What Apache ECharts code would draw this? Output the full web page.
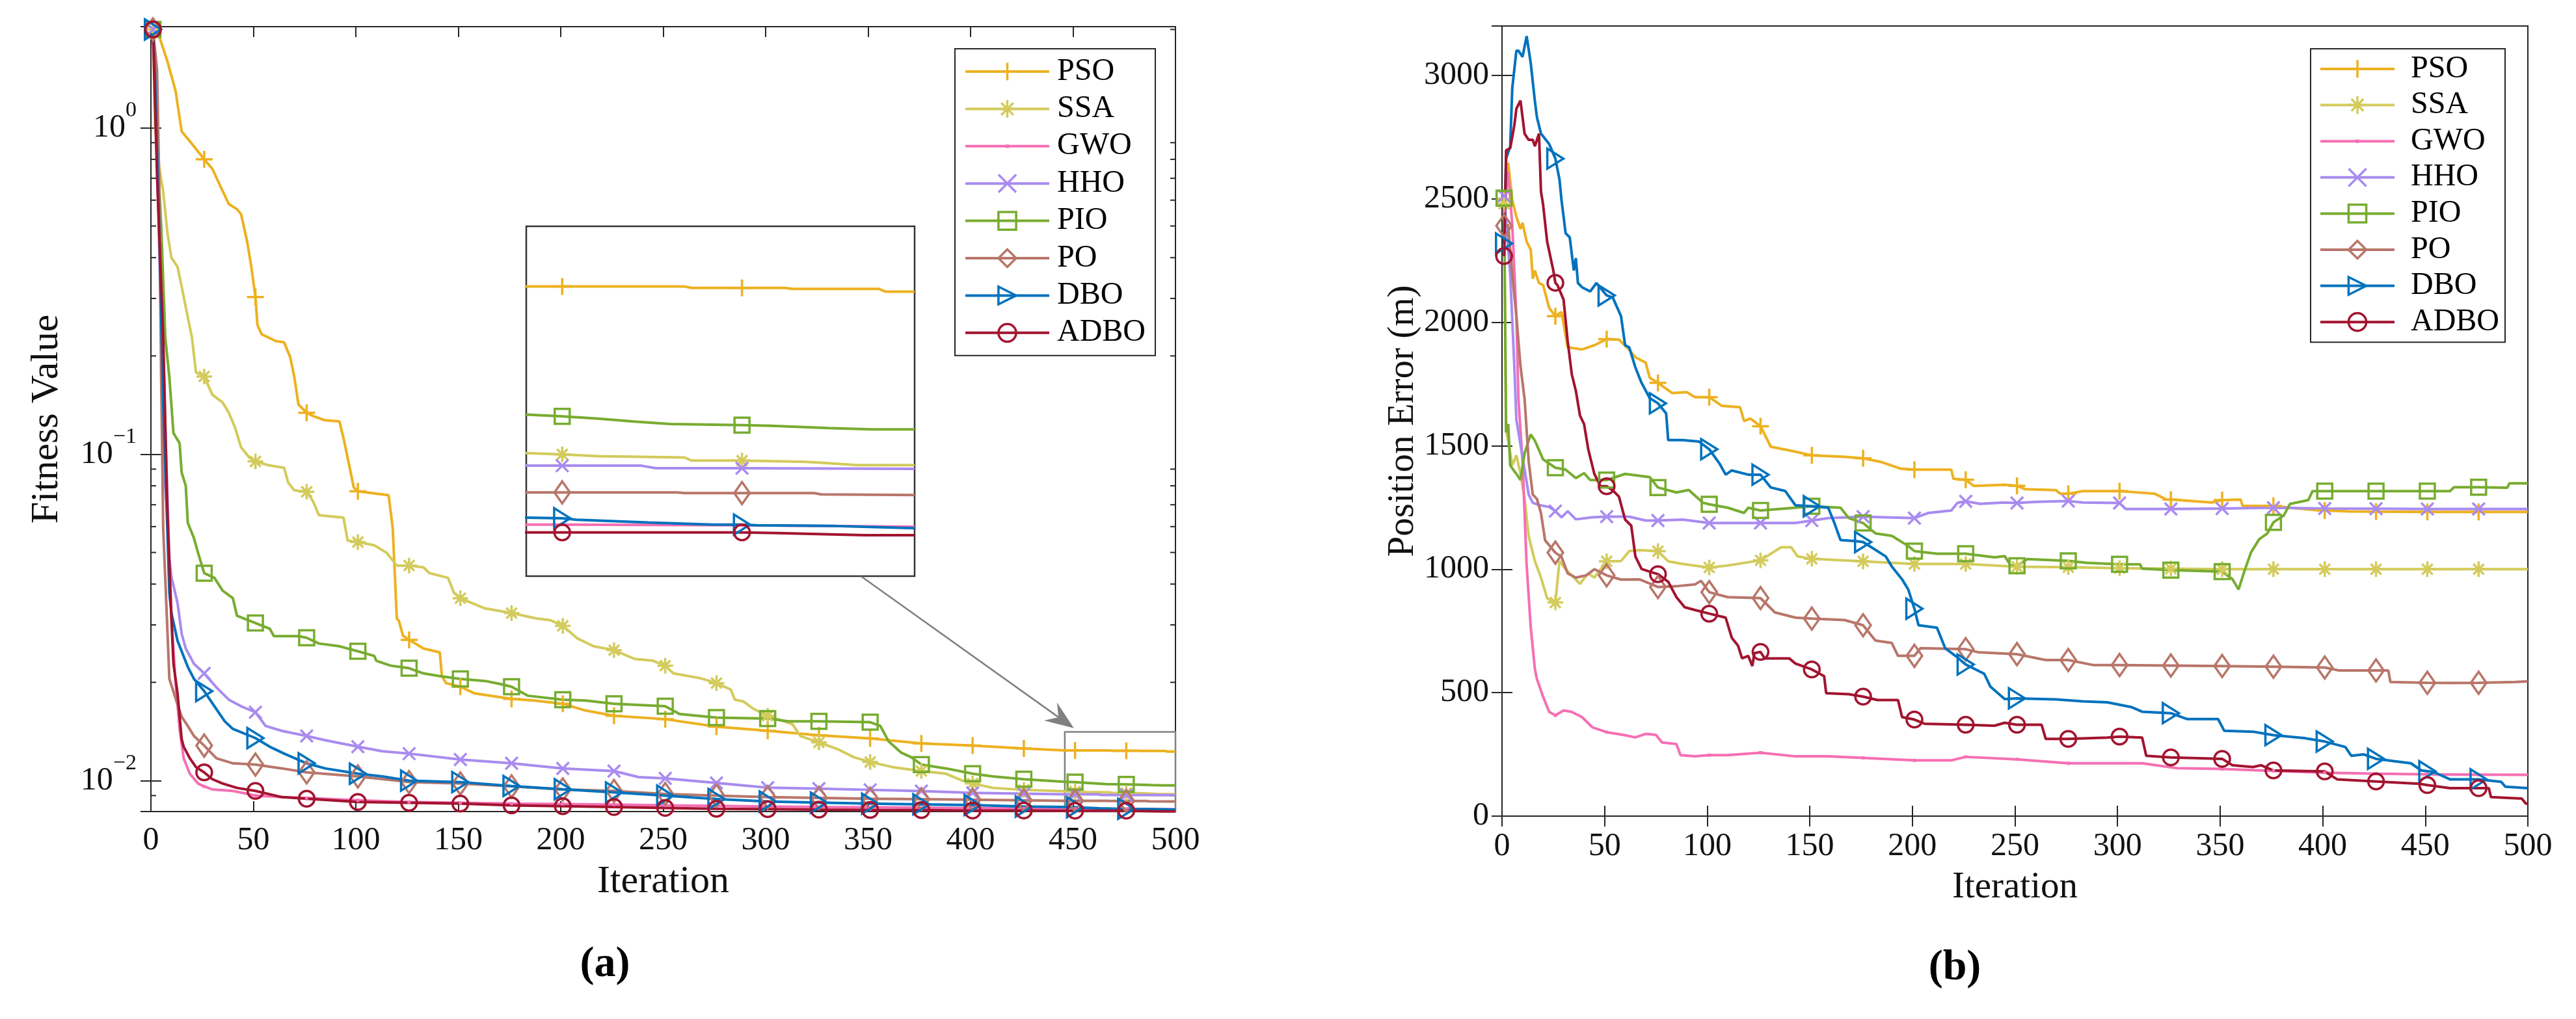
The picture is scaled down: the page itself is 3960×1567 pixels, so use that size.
<!DOCTYPE html>
<html>
<head>
<meta charset="utf-8">
<title>Convergence curves: fitness value and position error</title>
<script src="https://cdn.jsdelivr.net/npm/echarts@6.0.0/dist/echarts.min.js"></script>
<style>
  html, body { margin: 0; padding: 0; background: #fff; }
  #chart { width: 3960px; height: 1567px; }
</style>
</head>
<body>
<div id="chart"></div>
<script>
// ---- data: [iteration, value] ----
const algorithms = ['PSO', 'SSA', 'GWO', 'HHO', 'PIO', 'PO', 'DBO', 'ADBO'];
const fitnessMinorTicks = [0.009, 0.02, 0.03, 0.04, 0.05, 0.06, 0.07, 0.08, 0.09,
  0.2, 0.3, 0.4, 0.5, 0.6, 0.7, 0.8, 0.9, 2];
// zoomed region of panel (a) and the arrow pointing at it (data coordinates)
const zoomBox = [[446, 0.0141], [500, 0.00804]];
const zoomArrow = [346.7, 0.0422, 450.4, 0.01448];

// (a) fitness value
const fitPSO = [[1,2.0],[4,1.91],[8,1.6],[12,1.3],[15,0.975],[19,0.909],[24,0.83],[26,0.80],[30,0.748],[34,0.66],[38,0.584],[42,0.563],[44,0.544],[47,0.447],[49,0.375],[51,0.303],[52,0.249],[54,0.233],[61,0.222],[65,0.22],[68,0.198],[70,0.172],[72,0.142],[76,0.134],[79,0.131],[85,0.127],[92,0.126],[94,0.112],[97,0.091],[99,0.079],[101,0.077],[116,0.0749],[118,0.0594],[120,0.0314],[121,0.0309],[123,0.0278],[126,0.027],[133,0.0254],[141,0.0247],[142,0.0209],[144,0.0199],[151,0.0194],[158,0.0185],[176,0.0178],[187,0.0176],[201,0.0172],[212,0.0164],[226,0.0158],[251,0.01543],[276,0.01463],[301,0.01422],[326,0.01376],[351,0.01347],[376,0.0130],[401,0.0128],[426,0.01254],[446,0.01238],[451,0.01238],[468,0.01238],[469,0.01235],[476,0.01235],[482,0.01235],[483,0.01233],[495,0.01233],[496,0.01227],[500,0.01227]];
const fitSSA = [[1,2.0],[2,1.01],[4,0.76],[6,0.638],[8,0.48],[10,0.40],[13,0.375],[15,0.326],[18,0.263],[20,0.228],[22,0.178],[26,0.173],[30,0.152],[35,0.144],[38,0.134],[41,0.121],[44,0.105],[48,0.0977],[51,0.095],[57,0.0926],[65,0.0909],[67,0.0818],[70,0.0775],[76,0.0767],[79,0.072],[82,0.065],[94,0.0639],[96,0.0544],[101,0.0538],[109,0.0526],[115,0.0499],[120,0.0456],[126,0.0456],[133,0.045],[136,0.0432],[145,0.0418],[148,0.0375],[151,0.0362],[163,0.0337],[176,0.0326],[188,0.0314],[195,0.031],[201,0.0298],[208,0.0273],[216,0.0258],[226,0.0251],[236,0.0236],[245,0.0233],[251,0.0225],[255,0.0213],[268,0.0206],[276,0.0199],[283,0.019],[285,0.0177],[289,0.0175],[294,0.0166],[301,0.0158],[313,0.0149],[317,0.0137],[326,0.0131],[335,0.0125],[343,0.0118],[351,0.0114],[362,0.0110],[376,0.0107],[388,0.0105],[396,0.0100],[401,0.0098],[411,0.0095],[426,0.00937],[446,0.00928],[451,0.00926],[456,0.00923],[468,0.00921],[469,0.00916],[476,0.00916],[485,0.00914],[488,0.00912],[492,0.00909],[500,0.00909]];
const fitGWO = [[1,2.0],[3,0.8],[5,0.25],[7,0.08],[8,0.065],[10,0.032],[12,0.02],[14,0.0144],[16,0.0117],[19,0.0105],[23,0.0098],[26,0.0096],[30,0.0094],[40,0.0093],[51,0.0090],[64,0.0089],[76,0.00885],[101,0.0087],[126,0.0086],[151,0.00855],[176,0.0085],[201,0.00848],[226,0.00845],[251,0.0084],[276,0.00837],[301,0.00833],[326,0.0083],[351,0.00828],[376,0.00826],[401,0.00824],[426,0.00822],[446,0.0082],[451,0.0082],[476,0.00819],[500,0.00817]];
const fitHHO = [[1,2.0],[3,1.0],[5,0.4],[7,0.12],[9,0.048],[10,0.042],[13,0.035],[15,0.0282],[17,0.0254],[21,0.0228],[26,0.0213],[32,0.0193],[38,0.0177],[44,0.0169],[51,0.0162],[56,0.0147],[64,0.0142],[76,0.0137],[85,0.0133],[101,0.0127],[113,0.0123],[126,0.0121],[151,0.0116],[176,0.0113],[201,0.0109],[226,0.0107],[238,0.01025],[251,0.01016],[276,0.00984],[301,0.00952],[326,0.00945],[351,0.00937],[376,0.00929],[401,0.00917],[426,0.00912],[446,0.00908],[451,0.00908],[462,0.00908],[464,0.00904],[476,0.00904],[500,0.00903]];
const fitPIO = [[1,2.0],[3,0.9],[5,0.5],[7,0.228],[9,0.172],[11,0.116],[14,0.108],[15,0.0879],[17,0.080],[18,0.0616],[21,0.0553],[23,0.0499],[26,0.0432],[31,0.0418],[35,0.0382],[40,0.0362],[42,0.032],[51,0.0304],[58,0.0292],[60,0.0277],[72,0.0277],[76,0.0274],[82,0.0263],[92,0.0258],[101,0.0249],[109,0.0241],[110,0.0233],[117,0.0225],[126,0.0221],[133,0.0213],[141,0.0209],[151,0.0205],[163,0.0202],[170,0.0198],[176,0.0194],[184,0.0182],[201,0.0177],[212,0.0176],[226,0.0172],[251,0.0169],[258,0.016],[276,0.0156],[301,0.0155],[311,0.0152],[326,0.0152],[351,0.0151],[356,0.0147],[360,0.0132],[366,0.0122],[371,0.0118],[376,0.0112],[388,0.0109],[401,0.0105],[411,0.0103],[426,0.0101],[446,0.00992],[451,0.00989],[456,0.00985],[461,0.0098],[466,0.00976],[476,0.00974],[480,0.00973],[488,0.00969],[494,0.00967],[500,0.00967]];
const fitPO = [[1,2.0],[3,1.5],[4,0.71],[5,0.172],[6,0.059],[8,0.0293],[9,0.0205],[13,0.0171],[15,0.0157],[18,0.0147],[21,0.0137],[26,0.0128],[32,0.0117],[40,0.0113],[51,0.0112],[64,0.0109],[76,0.0106],[101,0.0103],[126,0.0099],[151,0.0098],[176,0.0096],[201,0.0094],[226,0.0093],[251,0.0091],[276,0.0090],[301,0.0089],[326,0.00885],[351,0.0088],[376,0.00877],[401,0.00874],[426,0.0087],[446,0.00867],[451,0.00867],[467,0.00867],[468,0.00866],[476,0.00866],[486,0.00866],[487,0.00864],[500,0.00863]];
const fitDBO = [[1,2.0],[2,1.44],[4,0.498],[6,0.144],[8,0.0594],[9,0.0376],[10,0.0326],[13,0.0268],[15,0.0249],[18,0.0223],[21,0.0205],[26,0.0188],[31,0.0169],[36,0.0152],[40,0.0144],[51,0.0135],[58,0.0127],[65,0.0121],[76,0.0113],[85,0.0109],[101,0.0105],[113,0.0103],[126,0.0100],[151,0.0099],[176,0.00963],[201,0.00941],[226,0.0092],[251,0.0090],[276,0.00878],[301,0.00863],[326,0.00856],[351,0.0085],[376,0.00846],[401,0.00842],[426,0.00833],[446,0.0083],[451,0.00829],[453,0.00827],[463,0.00823],[472,0.0082],[476,0.0082],[478,0.00819],[489,0.00818],[500,0.00815]];
const fitADBO = [[1,2.0],[3,0.71],[6,0.228],[8,0.0685],[10,0.0314],[11,0.0228],[13,0.0185],[15,0.0134],[16,0.0127],[19,0.0117],[22,0.0110],[26,0.0106],[30,0.0101],[35,0.0098],[42,0.0095],[51,0.0093],[64,0.0089],[76,0.0088],[101,0.0086],[126,0.00855],[151,0.0085],[176,0.0084],[201,0.00835],[226,0.0083],[251,0.00825],[276,0.0082],[301,0.00818],[326,0.00815],[351,0.00813],[376,0.00812],[401,0.0081],[426,0.0081],[446,0.00809],[451,0.00809],[476,0.00809],[481,0.00808],[493,0.00805],[500,0.00805]];

// (b) position error (m)
const posPSO = [[1,2500],[3,2646],[5,2495],[7,2428],[9,2378],[10,2403],[12,2327],[14,2294],[15,2176],[16,2210],[18,2159],[20,2151],[23,2058],[26,2025],[29,2042],[32,1899],[39,1890],[45,1907],[51,1932],[57,1930],[62,1889],[65,1858],[70,1837],[72,1775],[76,1755],[83,1713],[90,1717],[94,1697],[101,1697],[107,1662],[116,1656],[118,1600],[121,1610],[126,1579],[131,1496],[143,1476],[151,1461],[167,1455],[176,1449],[185,1434],[194,1408],[201,1403],[219,1403],[220,1366],[226,1362],[230,1337],[245,1342],[251,1338],[255,1324],[270,1320],[272,1306],[276,1306],[283,1316],[301,1316],[318,1306],[324,1282],[326,1282],[330,1280],[346,1270],[351,1280],[360,1282],[361,1256],[376,1256],[388,1246],[396,1240],[401,1238],[413,1234],[426,1233],[451,1232],[476,1232],[500,1232]];
const posSSA = [[1,2480],[2,1560],[3,1521],[5,1420],[7,1462],[9,1386],[11,1285],[13,1134],[16,1033],[19,966],[22,882],[26,865],[28,1033],[31,1000],[35,966],[38,941],[42,983],[45,966],[51,1032],[58,1033],[62,1073],[67,1077],[76,1073],[81,1032],[88,1021],[101,1007],[110,1015],[126,1036],[136,1089],[141,1089],[144,1052],[151,1042],[176,1032],[201,1021],[226,1021],[251,1010],[276,1008],[301,1004],[326,1002],[351,1000],[376,1000],[401,1000],[426,1000],[451,1000],[476,1000],[500,1000]];
const posGWO = [[1,2450],[3,2610],[5,2394],[7,2025],[8,1689],[10,1437],[12,1017],[14,765],[16,597],[17,556],[20,484],[23,422],[26,408],[30,428],[34,422],[39,401],[44,360],[51,340],[59,329],[65,319],[70,333],[75,329],[78,298],[85,292],[87,247],[94,242],[101,247],[110,247],[126,257],[143,242],[159,242],[176,236],[201,226],[219,226],[226,240],[251,230],[276,214],[312,214],[329,194],[351,191],[376,183],[401,176],[426,172],[451,169],[476,168],[500,167]];
const posHHO = [[1,2512],[4,2193],[6,1823],[7,1605],[10,1454],[13,1302],[15,1269],[18,1260],[23,1252],[26,1235],[29,1210],[32,1235],[36,1202],[44,1210],[51,1213],[62,1213],[70,1197],[76,1197],[88,1201],[101,1187],[126,1187],[143,1187],[151,1197],[159,1207],[176,1213],[201,1207],[208,1228],[219,1238],[222,1269],[226,1275],[233,1265],[245,1270],[251,1268],[260,1273],[276,1276],[283,1270],[301,1268],[304,1244],[326,1244],[351,1246],[376,1249],[401,1246],[426,1245],[451,1244],[476,1244],[500,1244]];
const posPIO = [[1,2503],[2,1554],[3,1588],[4,1420],[7,1386],[9,1361],[11,1470],[14,1546],[16,1521],[20,1445],[26,1411],[31,1403],[36,1369],[40,1389],[43,1361],[51,1361],[60,1386],[72,1373],[76,1331],[85,1311],[91,1321],[98,1269],[101,1263],[110,1249],[118,1228],[120,1249],[126,1238],[143,1249],[151,1255],[165,1249],[169,1207],[176,1187],[182,1145],[190,1135],[198,1094],[201,1073],[212,1063],[226,1063],[240,1048],[245,1053],[248,1014],[251,1014],[256,1041],[276,1034],[285,1026],[301,1020],[311,1020],[312,1002],[326,996],[351,990],[356,960],[359,918],[362,996],[365,1067],[369,1121],[373,1145],[376,1190],[381,1217],[384,1264],[393,1280],[395,1316],[401,1316],[426,1316],[451,1316],[462,1316],[464,1332],[476,1332],[490,1330],[491,1348],[500,1348]];
const posPO = [[1,2391],[3,2394],[5,2193],[7,2025],[9,1823],[11,1689],[13,1437],[15,1302],[17,1285],[19,1227],[21,1117],[26,1067],[29,1050],[32,983],[36,966],[41,975],[45,1000],[51,975],[58,958],[67,959],[76,928],[86,932],[94,938],[97,953],[101,907],[110,887],[126,883],[133,825],[143,804],[151,800],[167,794],[176,773],[182,711],[190,701],[193,649],[201,649],[204,680],[226,676],[232,664],[251,656],[265,632],[276,632],[288,612],[301,612],[326,610],[351,608],[376,605],[401,602],[408,590],[426,590],[432,590],[433,543],[451,540],[464,539],[476,540],[494,543],[500,546]];
const posDBO = [[1,2319],[2,2663],[4,2713],[5,2949],[7,3100],[8,3100],[10,3075],[12,3159],[14,3050],[16,2898],[17,2831],[19,2764],[23,2722],[26,2663],[28,2579],[29,2495],[31,2361],[33,2344],[35,2210],[36,2260],[37,2159],[39,2142],[43,2125],[46,2159],[51,2109],[54,2100],[58,2025],[60,1907],[62,1899],[65,1817],[68,1755],[72,1693],[76,1672],[80,1631],[81,1523],[88,1523],[96,1517],[101,1486],[106,1428],[109,1383],[112,1400],[120,1383],[126,1383],[131,1331],[138,1317],[143,1259],[151,1255],[159,1249],[162,1187],[165,1118],[172,1114],[176,1110],[180,1089],[187,1052],[190,1011],[195,959],[198,918],[201,840],[203,773],[212,763],[216,680],[221,649],[226,614],[235,577],[238,525],[245,474],[251,477],[270,473],[283,465],[295,461],[307,441],[312,423],[326,417],[334,393],[349,393],[352,346],[366,342],[376,328],[391,316],[401,302],[411,280],[414,244],[420,250],[426,232],[443,214],[448,185],[451,182],[454,179],[462,149],[476,149],[487,139],[489,119],[500,113]];
const posADBO = [[1,2268],[2,2697],[4,2705],[6,2797],[7,2865],[9,2898],[11,2764],[13,2739],[15,2739],[16,2713],[18,2764],[19,2529],[20,2478],[22,2327],[25,2210],[26,2160],[27,2151],[30,2092],[32,1924],[34,1790],[36,1722],[38,1622],[40,1588],[42,1487],[45,1386],[48,1336],[51,1336],[54,1319],[57,1294],[60,1201],[63,1176],[65,1052],[68,1001],[72,990],[76,980],[81,949],[85,887],[89,846],[94,835],[101,820],[109,804],[112,722],[115,691],[117,639],[120,649],[122,608],[123,660],[126,665],[128,639],[140,639],[143,618],[151,594],[157,567],[158,498],[169,494],[176,484],[183,470],[193,470],[195,401],[201,391],[206,374],[226,370],[240,366],[245,378],[251,370],[263,370],[265,313],[276,313],[295,318],[301,322],[312,318],[314,244],[326,238],[351,232],[356,206],[366,199],[370,206],[376,185],[401,181],[407,149],[426,140],[447,131],[451,126],[462,113],[476,113],[481,113],[482,77],[497,71],[499,51],[500,51]];

const fitness = { PSO: fitPSO, SSA: fitSSA, GWO: fitGWO, HHO: fitHHO, PIO: fitPIO, PO: fitPO, DBO: fitDBO, ADBO: fitADBO };
const position = { PSO: posPSO, SSA: posSSA, GWO: posGWO, HHO: posHHO, PIO: posPIO, PO: posPO, DBO: posDBO, ADBO: posADBO };

// ---- styles ----
const FONT = '"Liberation Serif", "Times New Roman", serif';
const INK = '#262626';
const GREY = '#808080';
const styles = {
  PSO:  { color: '#EDB120', symbol: 'path://M0,5L10,5M5,0L5,10', size: 26 },
  SSA:  { color: '#D3CB5C', symbol: 'path://M0,5L10,5M5,0L5,10M1.6,1.6L8.4,8.4M1.6,8.4L8.4,1.6', size: 24 },
  GWO:  { color: '#F56FB4', symbol: 'path://M0,0M10,10M4.4,4.4L5.6,4.4L5.6,5.6L4.4,5.6Z', size: 24, filled: true },
  HHO:  { color: '#A98BF0', symbol: 'path://M0,0L10,10M0,10L10,0', size: 19 },
  PIO:  { color: '#77AC30', symbol: 'path://M0,0L10,0L10,10L0,10Z', size: 23 },
  PO:   { color: '#B8766A', symbol: 'path://M3.5,0L7,5L3.5,10L0,5Z', size: 34 },
  DBO:  { color: '#0072BD', symbol: 'path://M0,0L8,5L0,10Z', size: 31 },
  ADBO: { color: '#A2142F', symbol: 'circle', size: 24 }
};

// markers every 25 iterations starting at 1 (MATLAB MarkerIndices 1:25:end)
function withMarkers(points) {
  return points.map(p => ((p[0] - 1) % 25 === 0 ? p : { value: p, symbol: 'none' }));
}

function lineSeries(name, points, xi, yi) {
  const st = styles[name];
  return {
    type: 'line', name: name, xAxisIndex: xi, yAxisIndex: yi,
    data: withMarkers(points),
    symbol: st.symbol, symbolSize: st.size, symbolKeepAspect: true,
    showSymbol: true, showAllSymbol: true,
    lineStyle: { color: st.color, width: 4 },
    itemStyle: {
      color: st.filled ? st.color : 'rgba(0,0,0,0)',
      borderColor: st.color, borderWidth: st.filled ? 2 : 3.5
    },
    emphasis: { disabled: true },
    silent: true, animation: false, clip: true
  };
}

function supLabel(value) {
  const e = Math.log10(value);
  const r = Math.round(e);
  if (Math.abs(e - r) > 1e-6) return '';
  return '{b|10}{s|' + (r < 0 ? '\u2212' + (-r) : r) + '}';
}

const tickStyle = { inside: true, length: 16, lineStyle: { color: INK, width: 2 } };
const labelStyle = { fontFamily: FONT, fontSize: 50, color: '#111' };

const series = [];
algorithms.forEach(n => series.push(lineSeries(n, fitness[n], 0, 0)));
algorithms.forEach(n => series.push(lineSeries(n, position[n], 2, 2)));
algorithms.forEach(n => series.push(lineSeries(n, fitness[n], 4, 4)));

// grey frame around the zoomed region of panel (a)
series[0].markArea = {
  silent: true, label: { show: false },
  itemStyle: { color: 'rgba(0,0,0,0)', borderColor: GREY, borderWidth: 2.5 },
  data: [[{ coord: zoomBox[0] }, { coord: zoomBox[1] }]]
};

// arrow from the inset to the zoomed region
series.push({
  type: 'custom', xAxisIndex: 0, yAxisIndex: 0, silent: true, animation: false, clip: false, z: 6,
  data: [zoomArrow], encode: { x: [0, 2], y: [1, 3] },
  renderItem: function (params, api) {
    const p1 = api.coord([api.value(0), api.value(1)]);
    const p2 = api.coord([api.value(2), api.value(3)]);
    const dx = p2[0] - p1[0], dy = p2[1] - p1[1];
    const len = Math.sqrt(dx * dx + dy * dy);
    const ux = dx / len, uy = dy / len, nx = -uy, ny = ux;
    const head = 44, half = 17, notch = 29;
    const bx = p2[0] - ux * head, by = p2[1] - uy * head;
    const mx = p2[0] - ux * notch, my = p2[1] - uy * notch;
    return {
      type: 'group',
      children: [
        { type: 'line', shape: { x1: p1[0], y1: p1[1], x2: mx, y2: my }, style: { stroke: GREY, lineWidth: 2.5 } },
        { type: 'polygon', shape: { points: [[p2[0], p2[1]], [bx + nx * half, by + ny * half], [mx, my], [bx - nx * half, by - ny * half]] },
          style: { fill: GREY } }
      ]
    };
  }
});

// minor log ticks on both sides of panel (a)
series.push({
  type: 'custom', xAxisIndex: 0, yAxisIndex: 0, silent: true, animation: false,
  data: fitnessMinorTicks.map(v => [0, v]),
  renderItem: function (params, api) {
    const v = api.value(1);
    const a = api.coord([0, v]);
    const b = api.coord([500, v]);
    return {
      type: 'group',
      children: [
        { type: 'line', shape: { x1: a[0], y1: a[1], x2: a[0] + 8, y2: a[1] }, style: { stroke: INK, lineWidth: 2 } },
        { type: 'line', shape: { x1: b[0] - 8, y1: b[1], x2: b[0], y2: b[1] }, style: { stroke: INK, lineWidth: 2 } }
      ]
    };
  }
});

function legendOf(left, itemWidth, gap, padding, textPad) {
  return {
    data: algorithms.map(n => (n === 'GWO' ? { name: n, itemStyle: { borderWidth: 2 } } : n)),
    orient: 'vertical', left: left, top: 75,
    itemWidth: itemWidth, itemHeight: 34, itemGap: gap,
    selectedMode: false, backgroundColor: '#fff',
    borderColor: INK, borderWidth: 2, padding: padding,
    lineStyle: { width: 4 },
    itemStyle: { borderWidth: 3.5 },
    textStyle: { fontFamily: FONT, fontSize: 48, lineHeight: 48, color: '#000', padding: [0, 0, 0, textPad] }
  };
}

const option = {
  backgroundColor: '#fff',
  animation: false,
  textStyle: { fontFamily: FONT },
  grid: [
    { left: 232, top: 41, width: 1575, height: 1207, show: true, borderColor: INK, borderWidth: 2, backgroundColor: '#fff' },
    { left: 2309, top: 40, width: 1577, height: 1215, show: true, borderColor: INK, borderWidth: 2, backgroundColor: '#fff' },
    { left: 809, top: 348, width: 597, height: 538, show: true, borderColor: '#333', borderWidth: 2.5, backgroundColor: '#fff', z: 3 }
  ],
  xAxis: [
    { gridIndex: 0, type: 'value', min: 0, max: 500, interval: 50, position: 'bottom',
      axisLine: { show: false }, axisTick: tickStyle, splitLine: { show: false },
      axisLabel: Object.assign({ margin: 20 }, labelStyle),
      name: 'Iteration', nameLocation: 'middle', nameGap: 78,
      nameTextStyle: { fontFamily: FONT, fontSize: 60, color: '#111' } },
    { gridIndex: 0, type: 'value', min: 0, max: 500, interval: 50, position: 'top',
      axisLine: { show: false }, axisTick: tickStyle, axisLabel: { show: false }, splitLine: { show: false } },
    { gridIndex: 1, type: 'value', min: 0, max: 500, interval: 50, position: 'bottom',
      axisLine: { show: false }, axisTick: tickStyle, splitLine: { show: false },
      axisLabel: Object.assign({ margin: 22 }, labelStyle),
      name: 'Iteration', nameLocation: 'middle', nameGap: 82,
      nameTextStyle: { fontFamily: FONT, fontSize: 57, color: '#111' } },
    { gridIndex: 1, type: 'value', min: 0, max: 500, interval: 50, position: 'top',
      axisLine: { show: false }, axisTick: tickStyle, axisLabel: { show: false }, splitLine: { show: false } },
    { gridIndex: 2, type: 'value', min: 446, max: 500, show: false }
  ],
  yAxis: [
    { gridIndex: 0, type: 'log', logBase: 10, min: 0.00804, max: 2.04, position: 'left',
      axisLine: { show: false }, axisTick: tickStyle, splitLine: { show: false }, minorTick: { show: false },
      axisLabel: {
        margin: 22, formatter: supLabel, padding: [0, 0, 18, 0],
        rich: {
          b: { fontFamily: FONT, fontSize: 50, color: '#111', padding: [18, 0, 0, 0] },
          s: { fontFamily: FONT, fontSize: 34, color: '#111', verticalAlign: 'top' }
        }
      },
      name: 'Fitness Value', nameLocation: 'middle', nameGap: 130, nameRotate: 90,
      nameTextStyle: { fontFamily: FONT, fontSize: 60, color: '#111' } },
    { gridIndex: 0, type: 'log', logBase: 10, min: 0.00804, max: 2.04, position: 'right',
      axisLine: { show: false }, axisTick: tickStyle, axisLabel: { show: false }, splitLine: { show: false } },
    { gridIndex: 1, type: 'value', min: 0, max: 3200, interval: 500, position: 'left',
      axisLine: { show: false }, axisTick: tickStyle, splitLine: { show: false },
      axisLabel: Object.assign({ margin: 20, showMaxLabel: false, formatter: v => String(v) }, labelStyle),
      name: 'Position Error (m)', nameLocation: 'middle', nameGap: 123, nameRotate: 90,
      nameTextStyle: { fontFamily: FONT, fontSize: 57, color: '#111' } },
    { gridIndex: 1, type: 'value', min: 0, max: 3200, interval: 500, position: 'right',
      axisLine: { show: false }, axisTick: tickStyle, axisLabel: { show: false }, splitLine: { show: false } },
    { gridIndex: 2, type: 'log', logBase: 10, min: 0.0075, max: 0.01374, show: false }
  ],
  legend: [
    legendOf(1468, 129, 9.4, [11, 15, 11, 14], 7),
    legendOf(3552, 114, 7.6, [7, 9, 7, 13], 20)
  ],
  graphic: [
    { type: 'text', x: 930, y: 1484, silent: true,
      style: { text: '(a)', font: 'bold 66px ' + FONT, fill: '#000', align: 'center', verticalAlign: 'middle', textAlign: 'center', textVerticalAlign: 'middle' } },
    { type: 'text', x: 3005, y: 1489, silent: true,
      style: { text: '(b)', font: 'bold 66px ' + FONT, fill: '#000', align: 'center', verticalAlign: 'middle', textAlign: 'center', textVerticalAlign: 'middle' } }
  ],
  series: series
};

const chart = echarts.init(document.getElementById('chart'), null, { renderer: 'canvas', devicePixelRatio: 1 });
chart.setOption(option);
window.addEventListener('resize', () => chart.resize());
</script>
</body>
</html>
